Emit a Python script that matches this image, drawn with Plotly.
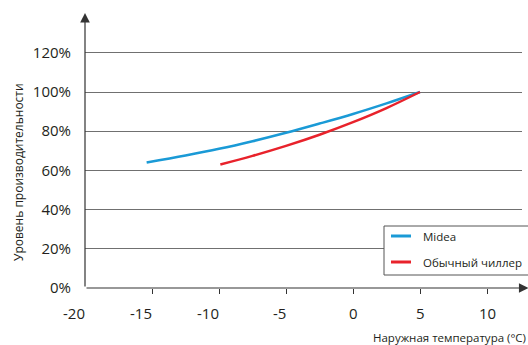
import plotly.graph_objects as go

# Data
series_names = ["Midea", "Обычный чиллер"]
x_midea = [-15.4, -12.5, -10, -7.5, -5, -2.5, 0, 2.5, 5]
y_midea = [64.0, 67.6, 71.0, 74.9, 79.2, 83.9, 88.8, 94.2, 100]
x_chiller = [-9.9, -7.5, -5, -2.5, 0, 2.5, 5]
y_chiller = [63.0, 67.4, 72.5, 78.2, 84.6, 91.8, 100]

x_ticks = [-20, -15, -10, -5, 0, 5, 10]
y_ticks = [0, 20, 40, 60, 80, 100, 120]
y_ticklabels = [f"{v}%" for v in y_ticks]

x_title = "Наружная температура (°C)"
y_title = "Уровень производительности"

colors = ["#1a9ad6", "#e8222b"]
FONT = "Open Sans, Noto Sans, sans-serif"
TXT = "#231f20"

# plot-area geometry (pixels)
W, H = 528, 345
ML, MR, MT, MB = 85, 6, 13, 57
PW, PH = W - ML - MR, H - MT - MB


def px(x):
    return (x - ML) / PW


def py(y):
    return (H - MB - y) / PH


fig = go.Figure()
fig.add_trace(go.Scatter(x=x_midea, y=y_midea, mode="lines", name=series_names[0],
                         line=dict(color=colors[0], width=2.5, shape="spline")))
fig.add_trace(go.Scatter(x=x_chiller, y=y_chiller, mode="lines", name=series_names[1],
                         line=dict(color=colors[1], width=2.5, shape="spline")))

x_range = [-20, -20 + PW / 13.4]
y_range = [0, PH / 39.2 * 20]

fig.update_layout(
    width=W, height=H,
    margin=dict(l=ML, r=MR, t=MT, b=MB),
    paper_bgcolor="white", plot_bgcolor="white",
    font=dict(family=FONT, color=TXT, size=15),
    showlegend=False,
    xaxis=dict(range=x_range, tickvals=x_ticks[1:], showticklabels=False,
               showgrid=False, zeroline=False, showline=False,
               ticks="outside", ticklen=5, tickcolor="#333", tickwidth=1),
    yaxis=dict(range=y_range, tickvals=y_ticks, ticktext=y_ticklabels,
               showgrid=True, gridcolor="#707070", gridwidth=1,
               zeroline=False, showline=False, ticks="", ticklabelstandoff=13,
               tickfont=dict(size=15, family=FONT, color=TXT)),
)

# x tick labels (negative labels end at their tick, others centred)
for v in x_ticks:
    fig.add_annotation(x=v, y=0, xref="x", yref="paper", text=str(v), showarrow=False,
                       xanchor="right" if v < 0 else "center", yanchor="middle",
                       xshift=2 if v < 0 else 0, yshift=-25,
                       font=dict(size=15, family=FONT, color=TXT))

# axis arrows
fig.add_annotation(x=13.1, y=0, ax=-20, ay=0, xref="x", yref="y", axref="x", ayref="y",
                   text="", showarrow=True, arrowhead=2, arrowsize=1.6, arrowwidth=1.2,
                   arrowcolor="#333")
fig.add_annotation(x=-20, y=y_range[1], ax=-20, ay=0, xref="x", yref="y", axref="x", ayref="y",
                   text="", showarrow=True, arrowhead=2, arrowsize=1.6, arrowwidth=1.2,
                   arrowcolor="#333")

# axis titles
fig.add_annotation(x=px(528), y=0, xref="paper", yref="paper",
                   xanchor="right", yanchor="middle", yshift=-49, showarrow=False,
                   text=x_title, font=dict(size=11.5, family=FONT, color=TXT))
fig.add_annotation(x=px(18), y=py(172), xref="paper", yref="paper",
                   xanchor="center", yanchor="middle", textangle=-90, showarrow=False,
                   text=y_title, font=dict(size=12, family=FONT, color=TXT))

# legend box
fig.add_shape(type="rect", xref="paper", yref="paper",
              x0=px(384), x1=px(532), y0=py(275), y1=py(226),
              fillcolor="white", line=dict(color="#555", width=1), layer="above")
for i, (name, col) in enumerate(zip(series_names, colors)):
    yy = py(236 + 26 * i)
    fig.add_shape(type="line", xref="paper", yref="paper",
                  x0=px(391), x1=px(411), y0=yy, y1=yy,
                  line=dict(color=col, width=3), layer="above")
    fig.add_annotation(x=px(421), y=yy, xref="paper", yref="paper", text=name,
                       showarrow=False, xanchor="left", yanchor="middle",
                       font=dict(size=11.5, family=FONT, color=TXT))

fig.write_html("out.html", config={"displayModeBar": False},
               post_script="document.body.style.margin='0px';")
